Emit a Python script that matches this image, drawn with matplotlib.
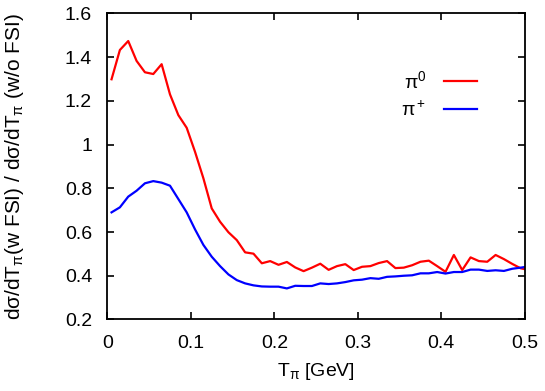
import matplotlib
matplotlib.use('Agg')
import matplotlib.pyplot as plt
import numpy as np

plt.rcParams['font.family'] = ['Liberation Sans', 'DejaVu Sans']
plt.rcParams['mathtext.fontset'] = 'custom'
plt.rcParams['mathtext.rm'] = 'Liberation Sans'
plt.rcParams['mathtext.it'] = 'Liberation Sans'
plt.rcParams['mathtext.default'] = 'rm'

t_pi = [0.005, 0.015, 0.025, 0.035, 0.045, 0.055, 0.065, 0.075, 0.085, 0.095,
        0.105, 0.115, 0.125, 0.135, 0.145, 0.155, 0.165, 0.175, 0.185, 0.195,
        0.205, 0.215, 0.225, 0.235, 0.245, 0.255, 0.265, 0.275, 0.285, 0.295,
        0.305, 0.315, 0.325, 0.335, 0.345, 0.355, 0.365, 0.375, 0.385, 0.395,
        0.405, 0.415, 0.425, 0.435, 0.445, 0.455, 0.465, 0.475, 0.485, 0.495,
        0.5]

ratio_pi0 = [1.299, 1.433, 1.474, 1.383, 1.331, 1.323, 1.368, 1.230, 1.135, 1.077,
             0.967, 0.846, 0.708, 0.647, 0.599, 0.563, 0.507, 0.501, 0.457, 0.467,
             0.450, 0.463, 0.438, 0.421, 0.437, 0.455, 0.427, 0.444, 0.453, 0.426,
             0.441, 0.444, 0.458, 0.467, 0.435, 0.437, 0.448, 0.464, 0.469, 0.444,
             0.418, 0.495, 0.426, 0.484, 0.467, 0.464, 0.495, 0.476, 0.454, 0.434,
             0.43]

ratio_pip = [0.690, 0.713, 0.762, 0.789, 0.823, 0.833, 0.826, 0.812, 0.751, 0.690,
             0.612, 0.541, 0.487, 0.444, 0.406, 0.380, 0.365, 0.356, 0.351, 0.350,
             0.350, 0.342, 0.354, 0.353, 0.353, 0.365, 0.362, 0.365, 0.371, 0.379,
             0.382, 0.389, 0.386, 0.395, 0.397, 0.400, 0.402, 0.411, 0.411, 0.417,
             0.410, 0.417, 0.417, 0.428, 0.428, 0.422, 0.425, 0.422, 0.432, 0.437,
             0.44]

fig = plt.figure(figsize=(5.45, 3.91), dpi=100)
ax = fig.add_axes([0.197, 0.183, 0.766, 0.7825])

ax.plot(t_pi, ratio_pi0, color='#ff0000', lw=1.6, label=r'$\pi^0$')
ax.plot(t_pi, ratio_pip, color='#0000ff', lw=1.6, label=r'$\pi^+$')

ax.set_xlim(0, 0.5)
ax.set_ylim(0.2, 1.6)
ax.set_xticks(np.arange(0, 0.51, 0.1), labels=['0', '0.1', '0.2', '0.3', '0.4', '0.5'])
ax.set_yticks(np.arange(0.2, 1.61, 0.2), labels=['0.2', '0.4', '0.6', '0.8', '1', '1.2', '1.4', '1.6'])
ax.tick_params(direction='in', top=True, right=True, length=5, width=1.2, labelsize=14)
ax.tick_params(axis='y', pad=11)
ax.tick_params(axis='x', pad=11)
for s in ax.spines.values():
    s.set_linewidth(1.3)

ax.set_xlabel(r'T$_\pi$ [GeV]', fontsize=14, labelpad=7)
ax.set_ylabel(r'd$\sigma$/dT$_\pi$(w FSI) / d$\sigma$/dT$_\pi$ (w/o FSI)', fontsize=15)
ax.yaxis.set_label_coords(-0.195, 0.5)

ax.legend(loc='upper right', bbox_to_anchor=(0.885, 0.815), frameon=False, markerfirst=False,
          fontsize=14, handlelength=1.7, labelspacing=0.45, handletextpad=0.9,
          borderpad=0, borderaxespad=0)

fig.savefig('out.png', dpi=100)
